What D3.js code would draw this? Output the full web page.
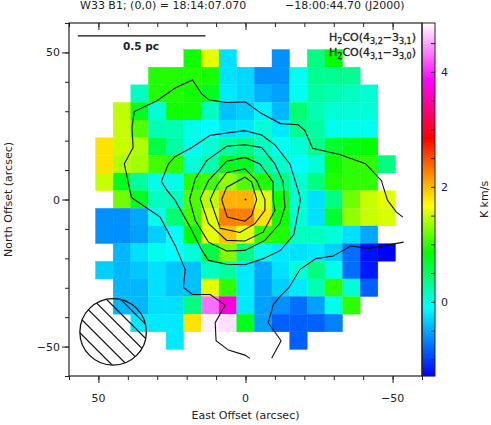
<!DOCTYPE html>
<html>

<head>
    <meta charset="utf-8" />
    <title>W33 B1 H2CO map</title>
    <style>
        body {
            margin: 0;
            background: white;
        }

        text {
            font-family: 'DejaVu Sans', sans-serif;
            font-size: 11px;
            fill: #222;
        }

        .domain {
            display: none;
        }

        .tick line {
            stroke: #222;
        }

        .contour {
            fill: none;
            stroke: #111;
            stroke-width: 1.1px;
        }
    </style>
</head>

<body>
    <svg id="chart" width="491" height="425"></svg>

    <script src="https://d3js.org/d3.v7.min.js"></script>
    <script>
        // cell centres in arcsec, west to the right
        var eastOffsets = [48, 42, 36, 30, 24, 18, 12, 6, 0, -6, -12, -18, -24, -30, -36, -42, -48]
        var northOffsets = [48, 42, 36, 30, 24, 18, 12, 6, 0, -6, -12, -18, -24, -30, -36, -42, -48]

        // integrated intensity in K km/s, one row per north offset
        var _ = null
        var intensity = [
            [_, _, _, _, _, .9, 1.6, -.24, _, _, -.62, _, .37, .85, _, _, _],
            [_, _, _, .95, .95, .95, .92, -.24, -.28, -.62, -.62, -.04, .31, .31, .31, _, _],
            [_, _, .13, .95, .95, .9, .75, -.2, -.28, -.46, -.54, -.04, .25, .19, .13, .07, _],
            [_, 1.47, .75, .05, .9, .9, .13, -.39, -.32, -.15, -.43, .43, .19, .05, .05, .05, _],
            [_, 1.5, 1.11, .19, .19, -.02, -.1, -.24, -.2, .05, -.2, .31, .25, -.04, -.04, -.04, _],
            [1.81, 1.5, 1.42, .6, .25, -.04, .05, .25, .37, .13, -.04, .05, .31, .67, .79, .85, _],
            [1.81, 1.42, 1.37, 1.06, 1.0, .05, .19, .73, .73, .25, .1, -.1, .05, .9, 1.0, 1.0, .37],
            [1.5, .73, .25, -.02, -.02, 1.0, 1.06, 1.32, 1.11, .95, .37, .07, .37, .95, 1.0, 1.0, _],
            [_, 1.21, .73, .13, .13, 1.1, 1.47, 2.04, 2.04, 1.6, .9, .05, -.24, .37, 1.21, 1.5, 1.6],
            [-.62, -.62, -.5, -.04, .43, 1.06, 1.58, 2.27, 2.27, 1.81, .9, .05, -.24, .67, 1.32, 1.5, 1.55],
            [-.62, -.62, -.54, -.32, -.1, .85, 1.6, 1.97, 1.6, 1.0, .95, .13, .13, .05, -.24, -.5, _],
            [_, -.43, -.24, -.02, -.1, .05, .61, 1.27, .37, -.02, -.2, -.24, -.2, -.32, -.77, -1.22, -1.29],
            [-.32, -.43, -.36, -.24, -.36, -.39, .13, .25, -.2, -.5, -.24, .05, .37, -.02, -.77, -1.18, _],
            [_, -.43, -.43, -.24, -.36, -.39, 1.6, 1.0, -.2, -.54, -.32, -.2, .19, 1.0, .05, -.84, _],
            [_, -.43, -.43, -.24, -.24, .37, 4.29, 3.7, -.2, -.54, -.62, -.77, -.54, -.02, 1.0, _, _],
            [_, _, -.2, -.2, -.2, 1.81, 4.79, 4.73, .75, -.54, -.84, -.84, -.84, -.69, _, _, _],
            [_, _, _, _, -.2, _, _, _, _, _, _, -.84, _, _, _, _, _]
        ]

        // colour table of the wedge
        var wedgeValues = [-1.29, -.1, .85, 1.68, 2.27, 2.85, 3.85, 4.85]
        var wedgeColors = ["#0000ff", "#00ffff", "#00ff00", "#ffff00", "#ff8000", "#ff0000", "#ff00ff", "#ffffff"]

        // contours as [east, north] in arcsec
        var contourNorth = [[-53.5, -6], [-51.3, -4.3], [-48.3, -.3], [-46.2, 6.4], [-40.8, 12.2], [-32, 15.3], [-22.8, 17.4], [-20.2, 23.4], [-17.9, 25.4], [-11.9, 25.8], [-5.5, 29.2], [.1, 33.2], [6.4, 33], [12.3, 33.8], [14.8, 35.8], [18, 40.6], [23.9, 37.9], [30.1, 33.6], [37.8, 29.9], [38.6, 24.5], [38.2, 17.7], [41.2, 12.1], [38.8, .8], [37.8, 0], [29, -6], [23.9, -15.6], [20.5, -23.8], [21.1, -29.9], [18, -32.3], [12, -32.3], [6.9, -35.9], [10.3, -41.9], [10, -48], [5.8, -51.2], [.2, -52.9], [-1.5, -54]]
        var contourSouth = [[-53.8, -14.5], [-42, -16.6], [-35.8, -15.8], [-29.8, -19.2], [-23.9, -20.1], [-18.5, -23.8], [-14.8, -29.9], [-11.7, -32.9], [-9.4, -35.9], [-7.7, -41.9], [-12.1, -48], [-8.9, -54]]
        var contour2 = [[.2, 23.4], [6.4, 22.6], [12, 21.8], [18.2, 17.7], [23.9, 14.6], [26.2, 12.1], [28.6, 6.1], [26.7, 3.1], [23.9, -.3], [18.8, -9.4], [14.8, -17.3], [12.6, -20.7], [6.4, -22], [.2, -22.2], [-6, -20.1], [-11.9, -17.3], [-16.4, -12], [-18.7, 0], [-17.9, 3.1], [-15.1, 12.1], [-10, 18.6], [-5.5, 21.9], [.2, 23.4]]
        var contour3 = [[19, 0], [17.1, 7], [13.2, 13.2], [6.4, 18.1], [.2, 18.6], [-5.5, 17.7], [-10, 12.1], [-12.8, 5.9], [-13.4, -2.6], [-11.7, -8.1], [-6.6, -13.9], [.2, -17.3], [6.4, -17.5], [12.6, -14.5], [17.1, -7.1], [19, 0]]
        var contour4 = [[15.4, .3], [12.6, 6.4], [6.4, 13], [.2, 14.3], [-4.9, 12.1], [-9.4, 5.9], [-9.4, -.3], [-10, -3.7], [-6, -11.1], [.2, -14.1], [6.4, -13.9], [12.6, -8.1], [15.4, .3]]
        var contour5 = [[12, 0], [9.8, 4.7], [6.4, 9.2], [.2, 10.4], [-3.8, 6.4], [-6.6, 0], [-6.6, -3.7], [-3.2, -8.2], [1.9, -11.2], [8.6, -9.8], [12, 0]]
        var contour6 = [[8.1, 0], [6.4, 4.2], [.2, 7.6], [-2.1, 5.9], [-3.8, 0], [-2.1, -5.4], [.2, -7.4], [6.2, -6], [8.1, 0]]
        var contours = [contourNorth, contourSouth, contour2, contour3, contour4, contour5, contour6]

        var majorTicks = [50, 0, -50]
        var minorTicks = [60, 50, 40, 30, 20, 10, 0, -10, -20, -30, -40, -50, -60]
        var wedgeMajor = [4, 2, 0]
        var wedgeMinor = [4.5, 4, 3.5, 3, 2.5, 2, 1.5, 1, .5, 0, -.5, -1]

        var beam = { east: 45, north: -45, radius: 11.3 }
        var beamHatch = [-13.6, -8.8, -4.2, .9, 6.5, 11.6]
        var scaleBar = { from: 57, to: 13.6, north: 55.6, label: "0.5 pc" }

        var svg = d3.select("#chart")

        var x = d3.scaleLinear().domain([60, -60]).range([69, 422])
        var y = d3.scaleLinear().domain([60, -60]).range([23, 376])
        var color = d3.scaleLinear().domain(wedgeValues).range(wedgeColors)
        var wedgeY = d3.scaleLinear().domain([4.85, -1.29]).range([23, 376])

        // map cells
        intensity.forEach(function(row, i) {
            row.forEach(function(v, j) {
                if (v === null) return
                svg.append("rect")
                    .attr("x", x(eastOffsets[j] + 3))
                    .attr("y", y(northOffsets[i] + 3))
                    .attr("width", x(eastOffsets[j] - 3) - x(eastOffsets[j] + 3))
                    .attr("height", y(northOffsets[i] - 3) - y(northOffsets[i] + 3))
                    .attr("fill", color(v))
                    .attr("stroke", color(v))
                    .attr("stroke-width", 0.3)
            })
        })

        var line = d3.line()
            .x(function(d) { return x(d[0]) })
            .y(function(d) { return y(d[1]) })

        svg.selectAll(".contour")
            .data(contours)
            .enter().append("path")
            .attr("class", "contour")
            .attr("d", line)

        // reference position
        svg.append("circle")
            .attr("cx", x(0))
            .attr("cy", y(0))
            .attr("r", 1)
            .attr("fill", "#111")

        // axes
        function drawAxis(axis, tx, ty) {
            svg.append("g")
                .attr("transform", "translate(" + tx + "," + ty + ")")
                .call(axis.tickFormat("").tickSizeOuter(0))
        }
        drawAxis(d3.axisBottom(x).tickValues(minorTicks).tickSize(4), 0, 376)
        drawAxis(d3.axisBottom(x).tickValues(majorTicks).tickSize(7), 0, 376)
        drawAxis(d3.axisBottom(x).tickValues(minorTicks).tickSize(4), 0, 23)
        drawAxis(d3.axisBottom(x).tickValues(majorTicks).tickSize(7), 0, 23)
        drawAxis(d3.axisLeft(y).tickValues(minorTicks).tickSize(4), 69, 0)
        drawAxis(d3.axisLeft(y).tickValues(majorTicks).tickSize(7), 69, 0)

        // wedge
        d3.range(23, 376).forEach(function(py) {
            svg.append("rect")
                .attr("x", 422)
                .attr("y", py)
                .attr("width", 13)
                .attr("height", 1.2)
                .attr("fill", color(wedgeY.invert(py + 0.5)))
        })
        drawAxis(d3.axisLeft(wedgeY).tickValues(wedgeMinor).tickSize(4), 435, 0)

        // frames
        svg.append("rect").attr("x", 69).attr("y", 23).attr("width", 353).attr("height", 353)
            .attr("fill", "none").attr("stroke", "#222").attr("stroke-width", 1.2)
        svg.append("rect").attr("x", 422).attr("y", 23).attr("width", 13).attr("height", 353)
            .attr("fill", "none").attr("stroke", "#222").attr("stroke-width", 1)

        // beam
        var clip = svg.append("clipPath").attr("id", "beamClip")
        var beamPx = x(beam.east), beamPy = y(beam.north), beamR = x(beam.east - beam.radius) - beamPx
        clip.append("circle").attr("cx", beamPx).attr("cy", beamPy).attr("r", beamR)
        svg.append("g").attr("clip-path", "url(#beamClip)")
            .selectAll("line").data(beamHatch).enter().append("line")
            .attr("x1", function(d) { return x(beam.east + d + 15) })
            .attr("y1", function(d) { return y(beam.north + 15) })
            .attr("x2", function(d) { return x(beam.east + d - 15) })
            .attr("y2", function(d) { return y(beam.north - 15) })
            .attr("stroke", "#111").attr("stroke-width", 1.2)
        svg.append("circle").attr("cx", beamPx).attr("cy", beamPy).attr("r", beamR)
            .attr("fill", "none").attr("stroke", "#111").attr("stroke-width", 1.3)

        // scale bar
        svg.append("line")
            .attr("x1", x(scaleBar.from)).attr("x2", x(scaleBar.to))
            .attr("y1", y(scaleBar.north)).attr("y2", y(scaleBar.north))
            .attr("stroke", "#111").attr("stroke-width", 1.3)
        svg.append("text").attr("x", 141).attr("y", 50).attr("text-anchor", "middle")
            .style("font-size", "10.5px").style("font-weight", "bold").text(scaleBar.label)

        // texts
        svg.append("text").attr("x", 80).attr("y", 9).attr("xml:space", "preserve")
            .text("W33 B1; (0,0) = 18:14:07.070")
        svg.append("text").attr("x", 285).attr("y", 9)
            .text("\u221218:00:44.70 (J2000)")

        majorTicks.forEach(function(t) {
            var label = t < 0 ? "\u2212" + (-t) : String(t)
            svg.append("text").attr("x", x(t)).attr("y", 402).attr("text-anchor", "middle").text(label)
            svg.append("text").attr("x", 60).attr("y", y(t) + 4).attr("text-anchor", "end").text(label)
        })
        wedgeMajor.forEach(function(t) {
            svg.append("text").attr("x", 441).attr("y", wedgeY(t) + 4).text(t)
        })
        svg.append("text").attr("x", x(0)).attr("y", 419).attr("text-anchor", "middle").text("East Offset (arcsec)")
        svg.append("text").attr("text-anchor", "middle")
            .attr("transform", "translate(12," + y(0) + ") rotate(-90)").text("North Offset (arcsec)")
        svg.append("text").attr("text-anchor", "middle")
            .attr("transform", "translate(488," + y(0) + ") rotate(-90)").text("K km/s")

        // line labels
        function lineLabel(py, parts) {
            var t = svg.append("text").attr("x", 329).attr("y", py)
                .style("stroke", "#222").style("stroke-width", 0.3)
            parts.forEach(function(p, i) {
                t.append("tspan").attr("dy", i == 0 ? 0 : (p[1] ? 3 : -3))
                    .style("font-size", p[1] ? "8px" : "11px").text(p[0])
            })
        }
        lineLabel(41, [["H", 0], ["2", 1], ["CO(4", 0], ["3,2", 1], ["\u22123", 0], ["3,1", 1], [")", 0]])
        lineLabel(56, [["H", 0], ["2", 1], ["CO(4", 0], ["3,1", 1], ["\u22123", 0], ["3,0", 1], [")", 0]])
    </script>
</body>

</html>
